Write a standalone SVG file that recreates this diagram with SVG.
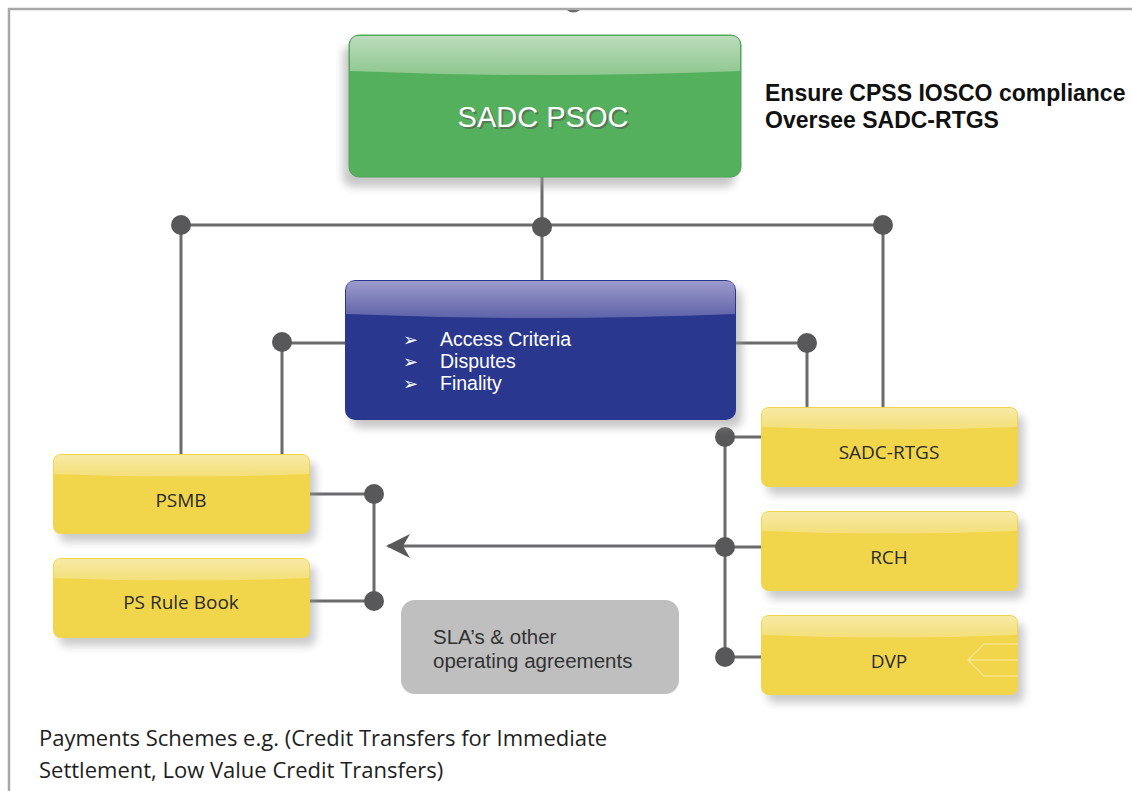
<svg xmlns="http://www.w3.org/2000/svg" width="1132" height="791" viewBox="0 0 1132 791">
<style>
.ln{stroke:#6b6b6d;stroke-width:3;fill:none}
.dot{fill:#58585a}
.yl{fill:#f1d64b}
.ytxt{font-family:"Open Sans","Liberation Sans",sans-serif;font-size:19px;fill:#2b2b2b;text-anchor:middle}
.btxt{font-family:"Liberation Sans",Arial,sans-serif;font-size:19.5px;fill:#ffffff}
.bul{font-family:"DejaVu Sans",sans-serif;font-size:18px;fill:#ffffff}
</style>
<defs>
<linearGradient id="yg" x1="0" y1="0" x2="0" y2="1">
<stop offset="0" stop-color="#f8eaa6"/>
<stop offset="1" stop-color="#f4df78"/>
</linearGradient>
<linearGradient id="gg" x1="0" y1="0" x2="0" y2="1">
<stop offset="0" stop-color="#bcdcbc"/>
<stop offset="1" stop-color="#8ec78f"/>
</linearGradient>
<linearGradient id="bg" x1="0" y1="0" x2="0" y2="1">
<stop offset="0" stop-color="#9d9bcc"/>
<stop offset="1" stop-color="#5e62a8"/>
</linearGradient>
<filter id="sh" x="-10%" y="-10%" width="130%" height="140%">
<feGaussianBlur stdDeviation="4"/>
</filter>
<marker id="arr" viewBox="0 0 26 26" refX="24" refY="13" markerWidth="26" markerHeight="26" markerUnits="userSpaceOnUse" orient="auto">
<path d="M26,13 L2,1 L9,13 L2,25 Z" fill="#58585a"/>
</marker>
</defs>
<rect width="1132" height="791" fill="#ffffff"/>
<!-- frame -->
<path d="M9,791 L9,9 L1132,9" stroke="#a8a8a8" stroke-width="2.5" fill="none"/>
<path d="M567,10 Q573,15 580,10 Z" fill="#6b6b6d"/>

<!-- connectors -->
<g id="connectors">
<path class="ln" d="M542,177 V281"/>
<path class="ln" d="M181,225 H883"/>
<path class="ln" d="M181,225 V455"/>
<path class="ln" d="M883,225 V408"/>
<path class="ln" d="M345,343 H282 V455"/>
<path class="ln" d="M736,343 H807 V408"/>
<path class="ln" d="M725,437 V657"/>
<path class="ln" d="M725,437 H762 M725,547 H762 M725,657 H762"/>
<path class="ln" d="M725,546 H388" marker-end="url(#arr)"/>
<path class="ln" d="M310,494 H374 V601 H310"/>
<circle class="dot" cx="181" cy="225" r="10"/>
<circle class="dot" cx="542" cy="227" r="10"/>
<circle class="dot" cx="883" cy="225" r="10"/>
<circle class="dot" cx="282" cy="342" r="10"/>
<circle class="dot" cx="807" cy="343" r="10"/>
<circle class="dot" cx="725" cy="437" r="10"/>
<circle class="dot" cx="725" cy="547" r="10"/>
<circle class="dot" cx="725" cy="657" r="10"/>
<circle class="dot" cx="374" cy="494" r="10"/>
<circle class="dot" cx="374" cy="601" r="10"/>
</g>

<!-- SADC PSOC -->
<g id="psoc">
<rect x="343" y="45" width="392" height="142" rx="10" fill="#999" opacity="0.55" filter="url(#sh)"/>
<rect x="349" y="35" width="392" height="142" rx="10" fill="#55b05d" stroke="#4ea556" stroke-width="1"/>
<path d="M359,36 H731 Q740,36 740,45 V71 Q542,79 350,71 V45 Q350,36 359,36 Z" fill="url(#gg)"/>
<text x="545" y="129" font-family="Liberation Sans,Arial,sans-serif" font-size="29" fill="#555" text-anchor="middle" opacity="0.6">SADC PSOC</text>
<text x="543" y="127" font-family="Liberation Sans,Arial,sans-serif" font-size="29" fill="#ffffff" text-anchor="middle">SADC PSOC</text>
</g>

<g id="note">
<text font-family="Liberation Sans,Arial,sans-serif" font-size="23" font-weight="bold" fill="#111">
<tspan x="765" y="101">Ensure CPSS IOSCO compliance</tspan>
<tspan x="765" y="128">Oversee SADC-RTGS</tspan>
</text>
</g>

<!-- blue box -->
<g id="rules">
<rect x="351" y="288" width="391" height="140" rx="10" fill="#999" opacity="0.55" filter="url(#sh)"/>
<rect x="345" y="280" width="391" height="140" rx="10" fill="#29378e"/>
<path d="M355,281 H726 Q735,281 735,290 V314 Q540,322 346,314 V290 Q346,281 355,281 Z" fill="url(#bg)"/>
<text class="bul" x="403" y="346">➢</text>
<text class="bul" x="403" y="368">➢</text>
<text class="bul" x="403" y="390">➢</text>
<text class="btxt" x="440" y="346">Access Criteria</text>
<text class="btxt" x="440" y="368">Disputes</text>
<text class="btxt" x="440" y="390">Finality</text>
</g>

<!-- yellow boxes -->
<g id="sadc-rtgs">
<rect x="767" y="415" width="257" height="80" rx="8" fill="#999" opacity="0.5" filter="url(#sh)"/>
<rect class="yl" x="761" y="407" width="257" height="80" rx="8"/>
<path d="M769,408 H1010 Q1017,408 1017,415 V427 Q889,432 762,427 V415 Q762,408 769,408 Z" fill="url(#yg)"/>
<text class="ytxt" x="889" y="459">SADC-RTGS</text>
</g>
<g id="rch">
<rect x="767" y="519" width="257" height="80" rx="8" fill="#999" opacity="0.5" filter="url(#sh)"/>
<rect class="yl" x="761" y="511" width="257" height="80" rx="8"/>
<path d="M769,512 H1010 Q1017,512 1017,519 V531 Q889,536 762,531 V519 Q762,512 769,512 Z" fill="url(#yg)"/>
<text class="ytxt" x="889" y="564">RCH</text>
</g>
<g id="dvp">
<rect x="767" y="623" width="257" height="80" rx="8" fill="#999" opacity="0.5" filter="url(#sh)"/>
<rect class="yl" x="761" y="615" width="257" height="80" rx="8"/>
<path d="M769,616 H1010 Q1017,616 1017,623 V635 Q889,640 762,635 V623 Q762,616 769,616 Z" fill="url(#yg)"/>
<path d="M1018,644 H984 L968,660 L984,676 H1018 M968,660 H1018" stroke="#f6e48a" stroke-width="1.5" fill="none"/>
<text class="ytxt" x="889" y="668">DVP</text>
</g>
<g id="psmb">
<rect x="59" y="462" width="257" height="80" rx="8" fill="#999" opacity="0.5" filter="url(#sh)"/>
<rect class="yl" x="53" y="454" width="257" height="80" rx="8"/>
<path d="M61,455 H302 Q309,455 309,462 V474 Q181,479 54,474 V462 Q54,455 61,455 Z" fill="url(#yg)"/>
<text class="ytxt" x="181" y="507">PSMB</text>
</g>
<g id="rulebook">
<rect x="59" y="566" width="257" height="80" rx="8" fill="#999" opacity="0.5" filter="url(#sh)"/>
<rect class="yl" x="53" y="558" width="257" height="80" rx="8"/>
<path d="M61,559 H302 Q309,559 309,566 V578 Q181,583 54,578 V566 Q54,559 61,559 Z" fill="url(#yg)"/>
<text class="ytxt" x="181" y="609">PS Rule Book</text>
</g>

<!-- gray box -->
<g id="sla">
<rect x="401" y="600" width="278" height="94" rx="14" fill="#bfbfbf"/>
<text font-family="Liberation Sans,Arial,sans-serif" font-size="20.5" fill="#333">
<tspan x="433" y="644">SLA’s &amp; other</tspan>
<tspan x="433" y="668">operating agreements</tspan>
</text>
</g>

<g id="caption">
<text font-family="Open Sans,Liberation Sans,sans-serif" font-size="22" fill="#1e1e1e">
<tspan x="39" y="746">Payments Schemes e.g. (Credit Transfers for Immediate</tspan>
<tspan x="39" y="778">Settlement, Low Value Credit Transfers)</tspan>
</text>
</g>
</svg>
